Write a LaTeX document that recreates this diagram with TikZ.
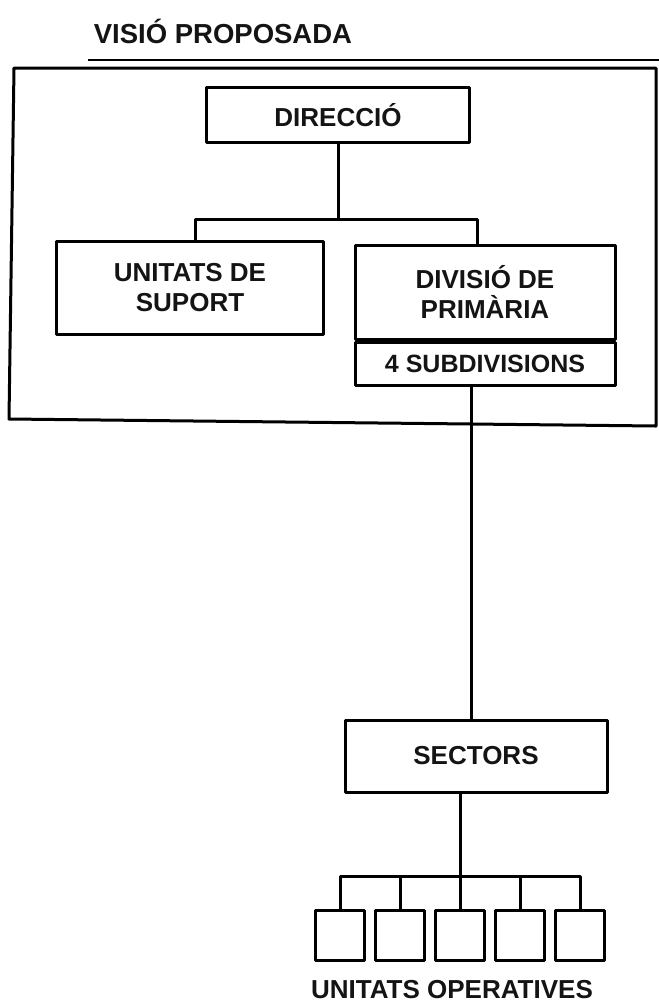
\documentclass[tikz,border=0pt]{standalone}
\usepackage{fontspec}
\setmainfont{Liberation Sans}
\begin{document}
\begin{tikzpicture}[x=1pt,y=-1pt,
  line width=3pt, line join=round,
  lbl/.style={font=\bfseries\fontsize{26}{30}\selectfont, align=center, text=black!92},
  box/.style={lbl, draw, inner sep=0pt, anchor=center},
  unit/.style={draw, minimum width=49pt, minimum height=50pt, inner sep=0pt}]
\useasboundingbox (0,0) rectangle (659,1005);

% heading and its rule
\node[lbl, anchor=base west, font=\bfseries\fontsize{27.5}{30}\selectfont] (title) at (89,43) {VISIÓ PROPOSADA};
\coordinate (ruleA) at (88,60);
\coordinate (ruleB) at (659,60);
\draw[line width=2.6pt] (ruleA) -- (ruleB);

% frame round the upper levels
\coordinate (f1) at (14,68);
\coordinate (f2) at (656,68);
\coordinate (f3) at (656,426);
\coordinate (f4) at (9,419);
\draw (f1) -- (f2) -- (f3) -- (f4) -- cycle;

% upper levels
\node[box, minimum width=263pt, minimum height=55pt] (dir) at (338,115) {DIRECCIÓ};
\node[box, minimum width=267pt, minimum height=93pt] (sup) at (190,288) {UNITATS DE\\SUPORT};
\node[box, minimum width=260pt, minimum height=94pt] (div) at (485,292) {DIVISIÓ DE\\PRIMÀRIA};
\node[box, minimum width=260pt, minimum height=43pt, anchor=north, font=\bfseries\fontsize{25}{30}\selectfont] (sub) at (div.south) {4 SUBDIVISIONS};

\coordinate (dbus) at (0,219);
\coordinate (dl) at (195,0);
\coordinate (dr) at (477,0);
\draw (dir.south) -- (dir.south |- dbus);
\draw (sup.north -| dl) -- (dl |- dbus) -- (dr |- dbus) -- (div.north -| dr);

% sectors
\node[box, minimum width=262pt, minimum height=72pt] (sec) at (476,756) {SECTORS};
\coordinate (trunk) at (471,0);
\draw (sub.south -| trunk) -- (sec.north -| trunk);

% operative units
\foreach \i/\x in {1/340,2/400,3/460,4/520,5/580}
  \node[unit] (u\i) at (\x,935) {};
\coordinate (ubus) at (0,876);
\draw (sec.south -| u3) -- (u3.north);
\draw (u1.north) -- (u1.north |- ubus) -- (u5.north |- ubus) -- (u5.north);
\foreach \i in {2,4}
  \draw (u\i.north) -- (u\i.north |- ubus);

\node[lbl, anchor=base] (ops) at (452,998) {UNITATS OPERATIVES};
\end{tikzpicture}
\end{document}
